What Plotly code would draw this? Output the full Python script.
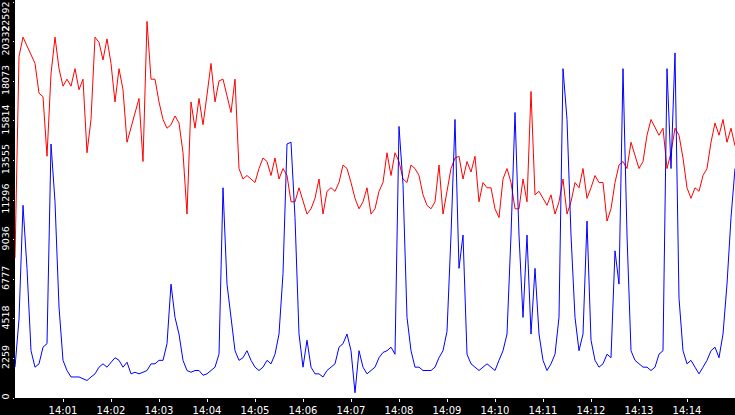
import pandas as pd
import plotly.graph_objects as go

# samples every 5 s from 14:00:00 to 14:15:00
times = pd.date_range("2024-01-01 14:00:00", periods=181, freq="5s")

red = [8000, 19500, 20600, 20100, 19700, 19100, 17400, 17200, 13800, 18500,
       20600, 18800, 17800, 18200, 17800, 18800, 17600, 18200, 14000, 15900,
       20600, 20300, 19300, 20500, 19100, 16900, 18800, 17600, 14600, 15400,
       16300, 17100, 13500, 21500, 18200, 18200, 16900, 15900, 15400, 15600,
       16100, 15700, 14000, 10500, 16900, 15400, 17100, 15600, 17300, 19100,
       16900, 18100, 18200, 17300, 16300, 18200, 13100, 12500, 12700,
       12500, 12300, 13100, 13700, 13500, 12700, 13700, 12500, 13100, 12700,
       11200, 11200, 12000, 11200, 10500, 10800, 11400, 12500, 10500, 11800,
       12000, 11800, 12300, 13300, 13100, 12300, 11400, 10800, 11200, 12000,
       10500, 10800, 11800, 12300, 14000, 12700, 14000, 13500, 12500, 12300,
       13300, 13100, 12700, 11600, 11000, 10800, 11200, 13300, 10500, 11800,
       13100, 13700, 13800, 12500, 13500, 12900, 13800, 11200, 12300, 12000,
       12000, 10800, 10300, 12500, 13100, 12300, 10800, 10800, 12500, 11200,
       17500, 11600, 11800, 11400, 11000, 11600, 10500, 11200, 12500, 10500,
       11200, 12300, 12000, 13100, 11400, 12000, 12700, 12300, 12300, 10100,
       10800, 12300, 13300, 13500, 13100, 14600, 13800, 13100, 13500, 15000,
       15900, 15400, 15000, 15400, 13100, 14000, 15400, 15000, 13700, 12000,
       11400, 12000, 11800, 12700, 13100, 14600, 15700, 15000, 15900, 14600,
       15400, 14400]

blue = [1760, 4500, 11000, 7400, 2700, 1760, 1950, 2900, 3100, 14500,
        11200, 5200, 2150, 1570, 1200, 1200, 1200, 1100, 1000, 1200,
        1380, 1760, 1950, 1760, 2040, 2300, 2150, 1760, 2040, 1380,
        1470, 1380, 1470, 1570, 1950, 1950, 2150, 2150, 3100, 6500,
        4600, 3650, 2150, 1570, 1470, 1570, 1570, 1300, 1380, 1570,
        1760, 2500, 12000, 6500, 4600, 2700, 2150, 2300, 2700,
        2150, 1760, 1570, 1760, 2150, 1950, 2500, 3650, 7100, 14500,
        14600, 10300, 3650, 1760, 3300, 1760, 1380, 1380, 1200, 1570,
        1760, 1950, 2900, 3100, 3650, 2700, 300, 2700, 1760, 1380,
        1570, 1760, 2300, 2600, 2700, 2900, 2500, 15500, 12200, 4600,
        2700, 1760, 1760, 1570, 1570, 1570, 1760, 2300, 2700, 3800,
        9300, 15900, 7400, 9300, 2500, 1950, 1760, 1570, 1760, 1950,
        1760, 1570, 2150, 2700, 3650, 9300, 16300, 9300, 4600, 9300,
        3650, 7400, 3650, 2150, 1570, 1950, 2500, 4600, 18800, 15900,
        9300, 4600, 2700, 3650, 10100, 3300, 2150, 1760, 1950, 2500,
        2300, 8400, 6500, 18800, 9300, 2700, 2150, 1950, 1760, 1760,
        1570, 1760, 2500, 2700, 18800, 13100, 19700, 5700, 2700, 1950,
        2150, 1760, 1380, 1760, 2150, 2700, 2900, 2300, 3650, 6500,
        10300, 13100]

y_ticks = [0, 2259, 4518, 6777, 9036, 11296, 13555, 15814, 18073, 20332, 22592]
x_ticks = pd.date_range("2024-01-01 14:01:00", periods=14, freq="60s")
x_labels = [t.strftime("%H:%M") for t in x_ticks]

# top label would be clipped, so it is drawn as an annotation instead
y_labels = [str(v) for v in y_ticks[:-1]] + [""]

fig = go.Figure()
fig.add_trace(go.Scatter(x=times, y=red, mode="lines",
                         line=dict(color="red", width=1)))
fig.add_trace(go.Scatter(x=times, y=blue, mode="lines",
                         line=dict(color="blue", width=1)))

fig.add_annotation(x=0, xref="paper", xanchor="right", xshift=-2,
                   y=y_ticks[-1], yref="y", yanchor="top", yshift=2,
                   text=str(y_ticks[-1]), textangle=-90, showarrow=False,
                   font=dict(size=9.5, color="white"))

fig.update_layout(
    width=735, height=415,
    margin=dict(l=15, r=0, t=0, b=17, autoexpand=False),
    paper_bgcolor="black", plot_bgcolor="white",
    showlegend=False,
    font=dict(family="DejaVu Sans", size=10, color="white"),
    xaxis=dict(range=[times[0], times[-1]], tickvals=x_ticks, ticktext=x_labels,
               showgrid=False, zeroline=False, ticks="outside", ticklen=3,
               tickcolor="white", automargin=False,
               tickfont=dict(size=10, color="white")),
    yaxis=dict(range=[0, 22720], tickvals=y_ticks, ticktext=y_labels,
               showgrid=False, zeroline=False, ticks="outside", ticklen=1,
               tickcolor="white", tickangle=-90, automargin=False,
               tickfont=dict(size=9.5, color="white")),
)

fig.write_html("out.html", config={"displayModeBar": False},
               post_script="document.body.style.margin='0';document.body.style.background='black';")
